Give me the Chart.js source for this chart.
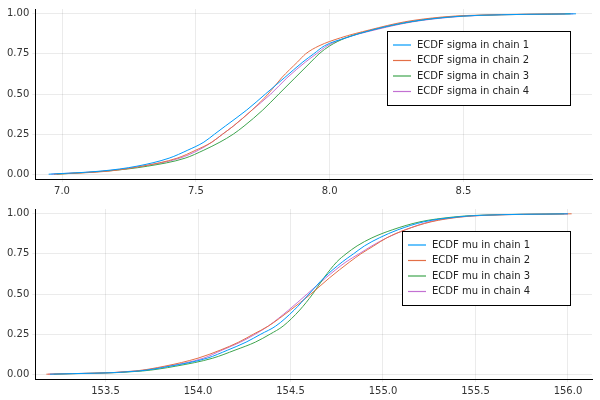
<!DOCTYPE html>
<html><head><meta charset="utf-8">
<script src="https://cdn.jsdelivr.net/npm/chart.js@4/dist/chart.umd.min.js"></script>
<style>
html,body{margin:0;padding:0;background:#fff;}
.box{position:absolute;left:0;width:600px;height:200px;}
</style></head><body>
<div class="box" style="top:0"><canvas id="c1"></canvas></div>
<div class="box" style="top:200px"><canvas id="c2"></canvas></div>
<script>
Chart.defaults.font.family = "DejaVu Sans, sans-serif";
Chart.defaults.font.size = 10;
Chart.defaults.color = "#333";

const colors = ['#009AFA','#E36F47','#3EA44E','#C371D2'];
const probs = [0,0.02,0.05,0.1,0.15,0.2,0.25,0.3,0.4,0.5,0.6,0.7,0.75,0.8,0.85,0.9,0.95,0.98,0.99,1];

const sigmaChains = [
  [6.95,7.15,7.28,7.40,7.47,7.53,7.57,7.61,7.69,7.76,7.83,7.90,7.94,7.98,8.06,8.16,8.30,8.45,8.55,8.92],
  [6.97,7.18,7.30,7.43,7.50,7.56,7.60,7.64,7.71,7.77,7.82,7.88,7.91,7.96,8.04,8.15,8.28,8.42,8.52,8.88],
  [6.98,7.17,7.32,7.46,7.53,7.59,7.64,7.68,7.75,7.81,7.87,7.93,7.96,8.00,8.06,8.16,8.30,8.44,8.55,8.90],
  [6.96,7.16,7.30,7.44,7.51,7.56,7.60,7.64,7.71,7.78,7.84,7.91,7.95,7.99,8.06,8.17,8.31,8.46,8.56,8.91]
];
const muChains = [
  [153.20,153.68,153.85,154.05,154.16,154.26,154.34,154.42,154.52,154.60,154.68,154.78,154.84,154.90,154.98,155.08,155.22,155.40,155.52,156.00],
  [153.18,153.66,153.82,154.00,154.12,154.22,154.30,154.38,154.50,154.61,154.71,154.82,154.88,154.95,155.02,155.12,155.26,155.42,155.54,156.02],
  [153.22,153.70,153.88,154.08,154.20,154.31,154.39,154.46,154.55,154.62,154.68,154.75,154.80,154.86,154.94,155.05,155.20,155.38,155.50,155.98],
  [153.19,153.67,153.84,154.03,154.13,154.23,154.31,154.38,154.49,154.59,154.69,154.80,154.87,154.94,155.02,155.12,155.25,155.41,155.53,156.00]
];
const sigmaTicks = [7.0,7.5,8.0,8.5];
const muTicks = [153.5,154.0,154.5,155.0,155.5,156.0];
const yTicks = [0,0.25,0.5,0.75,1];

const innerLegend = {
  id:'innerLegend',
  afterDraw(chart, args, opts){
    const ctx = chart.ctx, a = chart.chartArea;
    const w = opts.w, h = 74;
    const x0 = a.right - w - 22, y0 = a.top + opts.top;
    ctx.save();
    ctx.fillStyle = '#fff'; ctx.fillRect(x0,y0,w,h);
    ctx.strokeStyle = '#000'; ctx.lineWidth = 1;
    ctx.strokeRect(x0+0.5,y0+0.5,w,h);
    ctx.font = '10px DejaVu Sans, sans-serif';
    ctx.textBaseline = 'middle';
    chart.data.datasets.forEach((ds,i) => {
      const y = y0 + 14 + i*15.5;
      ctx.strokeStyle = ds.borderColor; ctx.lineWidth = 1.2;
      ctx.beginPath(); ctx.moveTo(x0+6,y); ctx.lineTo(x0+24,y); ctx.stroke();
      ctx.fillStyle = '#222'; ctx.fillText(ds.label, x0+30, y);
    });
    ctx.restore();
  }
};

function makeChart(id, chains, name, ticks, xmin, xmax, lw, ltop){
  new Chart(document.getElementById(id), {
    type:'line',
    data:{ datasets: chains.map((c,i) => ({
      label:'ECDF ' + name + ' in chain ' + (i+1),
      data:c.map((x,j) => ({x, y:probs[j]})),
      borderColor:colors[i], borderWidth:1, pointRadius:0, cubicInterpolationMode:'monotone', fill:false
    })) },
    options:{
      responsive:true, maintainAspectRatio:false, animation:false,
      layout:{ padding:{ left:4, right:8, top:8, bottom:0 } },
      plugins:{ legend:{display:false}, tooltip:{enabled:false}, innerLegend:{ w:lw, top:ltop } },
      scales:{
        x:{ type:'linear', min:xmin, max:xmax,
            afterBuildTicks:(s)=>{ s.ticks = ticks.map(v=>({value:v})); },
            ticks:{ callback:v=>v.toFixed(1), maxRotation:0, color:'#333' },
            grid:{ color:'rgba(0,0,0,0.08)', drawTicks:true, tickLength:3 },
            border:{ color:'#000' } },
        y:{ min:-0.03, max:1.03,
            afterBuildTicks:(s)=>{ s.ticks = yTicks.map(v=>({value:v})); },
            ticks:{ callback:v=>v.toFixed(2), color:'#333' },
            grid:{ color:'rgba(0,0,0,0.08)', tickLength:3 },
            border:{ color:'#000' } }
      }
    },
    plugins:[innerLegend]
  });
}

makeChart('c1', sigmaChains, 'sigma', sigmaTicks, 6.9, 8.98, 183, 22);
makeChart('c2', muChains, 'mu', muTicks, 153.12, 156.13, 168, 22);
</script>
</body></html>
